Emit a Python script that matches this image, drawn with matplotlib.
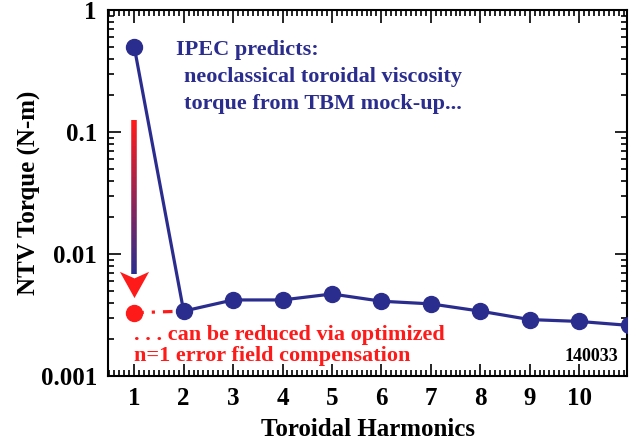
import numpy as np
import matplotlib
matplotlib.use("Agg")
import matplotlib.pyplot as plt
from matplotlib.ticker import MultipleLocator, FixedLocator, NullFormatter
from matplotlib.collections import LineCollection
from matplotlib.path import Path
import matplotlib.colors as mcolors

plt.rcParams['font.family'] = ['Liberation Serif', 'DejaVu Serif']
plt.rcParams['font.weight'] = 'bold'

# du lieu doc tu hinh
harmonics = [1, 2, 3, 4, 5, 6, 7, 8, 9, 10, 11]
torque = [0.50, 0.0034, 0.0042, 0.0042, 0.0047, 0.0041, 0.0039, 0.0034, 0.0029, 0.0028, 0.0026]
reduced_n = [1, 2]
reduced_torque = [0.0033, 0.0034]

blue = '#2b2d8e'
red = '#ff1a1a'

fig = plt.figure(figsize=(6.38, 4.46), dpi=100)
ax = fig.add_axes([0.1693, 0.157, 0.8135, 0.8206])

ax.plot(harmonics, torque, color=blue, lw=2.3, marker='o', ms=11.5, zorder=3, clip_on=True)
ax.plot(reduced_n, reduced_torque, color=red, lw=2.3, linestyle=(0, (3, 2.5, 1, 2.5)), zorder=2)
ax.plot(reduced_n[0], reduced_torque[0], 'o', color=red, ms=11.5, zorder=4)

# mui ten chuyen mau tu do sang xanh
y_top, y_bot = 0.126, 0.0068
ys = np.logspace(np.log10(y_top), np.log10(y_bot), 60)
pts = np.array([[1.0 * np.ones_like(ys), ys]]).T.reshape(-1, 1, 2)
segs = np.concatenate([pts[:-1], pts[1:]], axis=1)
cmap = mcolors.LinearSegmentedColormap.from_list('rb', [red, blue])
lc = LineCollection(segs, colors=cmap(np.linspace(0, 1, len(segs))), linewidths=4, capstyle='butt')
ax.add_collection(lc)
head = Path([(-1, 0.8), (0, 0.35), (1, 0.8), (0, -1), (-1, 0.8)],
            [Path.MOVETO, Path.LINETO, Path.LINETO, Path.LINETO, Path.CLOSEPOLY])
ax.plot(1, 0.0058, marker=head, color=red, ms=21, mew=0, zorder=5)

ax.set_yscale('log')
ax.set_xlim(0.47, 10.97)
ax.set_ylim(0.001, 1)
ax.xaxis.set_major_locator(FixedLocator(range(1, 11)))
ax.xaxis.set_minor_locator(MultipleLocator(0.1))
ax.yaxis.set_major_locator(FixedLocator([0.001, 0.01, 0.1, 1]))
ax.yaxis.set_minor_formatter(NullFormatter())
ax.set_yticklabels(['0.001', '0.01', '0.1', '1'])
ax.tick_params(which='both', direction='in', top=True, right=True, labelsize=18, width=1.2)
ax.tick_params(which='major', length=9, pad=8)
ax.tick_params(which='minor', length=4)
for s in ax.spines.values():
    s.set_linewidth(1.5)

ax.set_xlabel('Toroidal Harmonics', fontsize=18, fontweight='bold', labelpad=6)
ax.set_ylabel('NTV Torque (N-m)', fontsize=18, fontweight='bold', labelpad=0)

ax.text(1.85, 0.47, 'IPEC predicts:', color=blue, fontsize=16, fontweight='bold', va='center')
ax.text(2.0, 0.28, 'neoclassical toroidal viscosity', color=blue, fontsize=16, fontweight='bold', va='center')
ax.text(2.0, 0.17, 'torque from TBM mock-up...', color=blue, fontsize=16, fontweight='bold', va='center')
ax.text(1.0, 0.00215, '. . . can be reduced via optimized', color=red, fontsize=16, fontweight='bold', va='center')
ax.text(1.0, 0.00145, 'n=1 error field compensation', color=red, fontsize=16, fontweight='bold', va='center')
ax.text(10.8, 0.00145, '140033', color='black', fontsize=13, fontweight='bold', va='center', ha='right')

fig.savefig('out.png', dpi=100)
